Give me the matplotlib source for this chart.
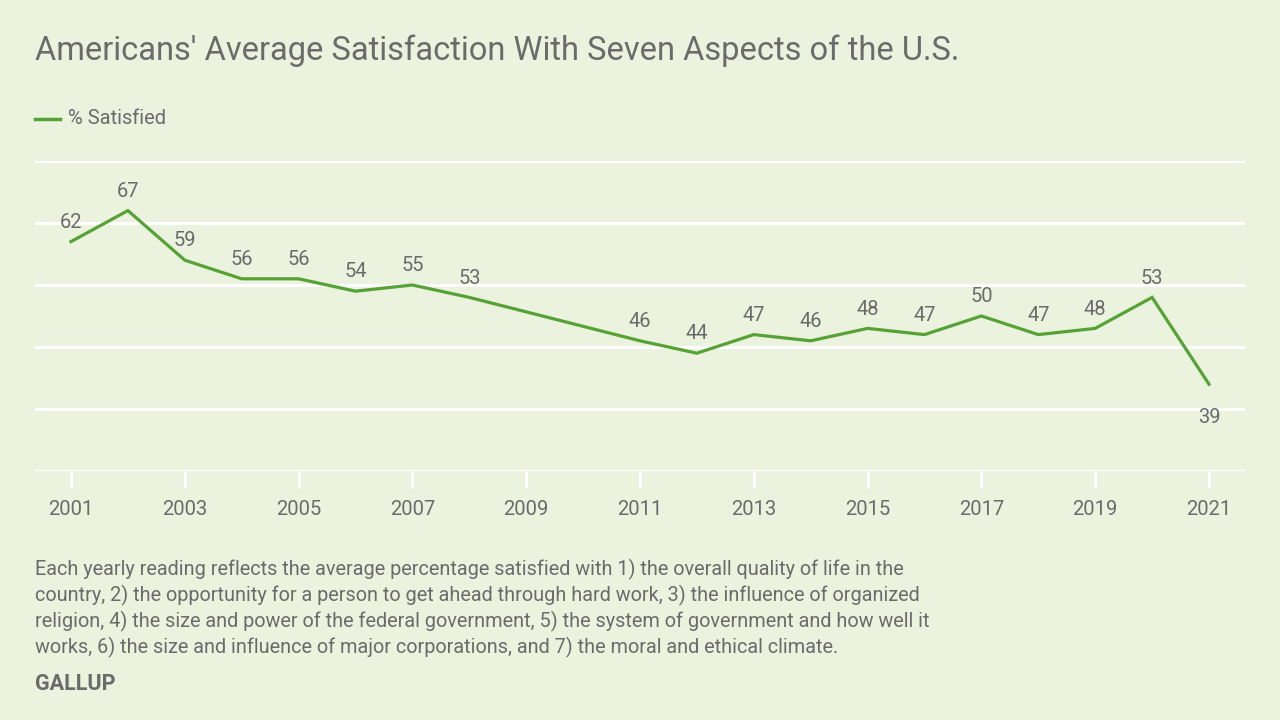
import matplotlib
matplotlib.use("Agg")
import matplotlib.pyplot as plt

# data (2009 and 2010 have no reading)
years = [2001, 2002, 2003, 2004, 2005, 2006, 2007, 2008,
         2011, 2012, 2013, 2014, 2015, 2016, 2017, 2018, 2019, 2020, 2021]
satisfied = [62, 67, 59, 56, 56, 54, 55, 53,
             46, 44, 47, 46, 48, 47, 50, 47, 48, 53, 39]
tick_years = list(range(2001, 2022, 2))
grid_vals = [25, 35, 45, 55, 65, 75]

bg = "#ebf3df"
green = "#56a235"
grey = "#6b6b6b"

plt.rcParams["font.family"] = ["Roboto", "DejaVu Sans"]

fig = plt.figure(figsize=(12.8, 7.2), dpi=100, facecolor=bg)
ax = fig.add_axes([35/1280, 1 - 471/720, 1210/1280, 310/720])
ax.set_facecolor(bg)

for g in grid_vals:
    ax.axhline(g, color="white", lw=2.2, zorder=1)

ax.plot(years, satisfied, color=green, lw=2.3, zorder=3, solid_joinstyle="miter")

for x, y in zip(years, satisfied):
    if x == 2021:
        ax.annotate(str(y), (x, y), xytext=(0, -17), textcoords="offset points",
                    ha="center", va="top", fontsize=14.5, color=grey)
    else:
        ax.annotate(str(y), (x, y), xytext=(0, 7), textcoords="offset points",
                    ha="center", va="bottom", fontsize=14.5, color=grey)

ax.set_xlim(2000.367, 2021.633)
ax.set_ylim(25, 75)
ax.set_xticks(tick_years)
ax.set_xticklabels([str(t) for t in tick_years])
ax.set_yticks([])
ax.tick_params(axis="x", length=12, width=2.2, color="white", labelsize=14.5,
               labelcolor=grey, pad=9)
for s in ax.spines.values():
    s.set_visible(False)

fig.text(35/1280, 1 - 60/720, "Americans' Average Satisfaction With Seven Aspects of the U.S.",
         fontsize=23.5, color=grey, ha="left", va="baseline")

# legend
fig.add_artist(plt.Line2D([35/1280, 60/1280], [1 - 119/720, 1 - 119/720],
                          color=green, lw=2.5))
fig.text(68/1280, 1 - 119/720, "% Satisfied", fontsize=14.5, color=grey,
         ha="left", va="center")

note = ("Each yearly reading reflects the average percentage satisfied with 1) the overall quality of life in the\n"
        "country, 2) the opportunity for a person to get ahead through hard work, 3) the influence of organized\n"
        "religion, 4) the size and power of the federal government, 5) the system of government and how well it\n"
        "works, 6) the size and influence of major corporations, and 7) the moral and ethical climate.")
fig.text(35/1280, 1 - 559/720, note, fontsize=14.3, color=grey, ha="left", va="top",
         linespacing=1.3)

fig.text(35/1280, 1 - 684/720, "GALLUP", fontsize=15.5, color=grey, ha="left",
         va="center", fontweight="bold")

fig.savefig("out.png", dpi=100, facecolor=bg)
